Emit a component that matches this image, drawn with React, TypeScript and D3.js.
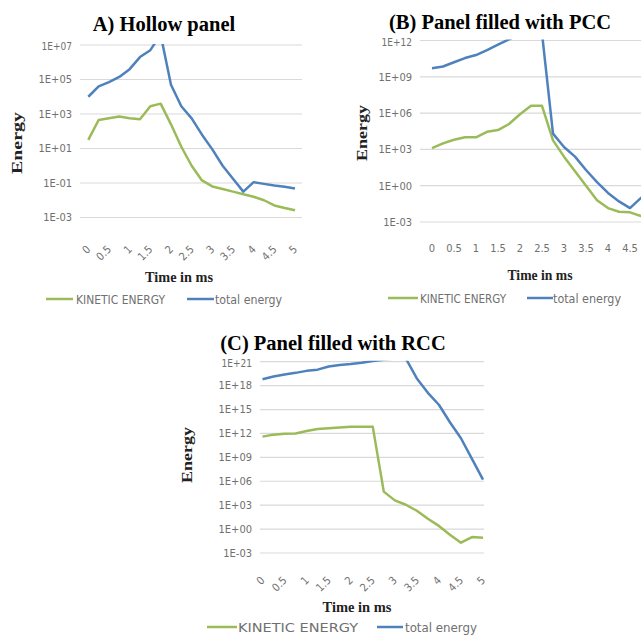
import React from "react";
import * as d3 from "d3";

// time in ms (category values)
const TIME = [0, 0.25, 0.5, 0.75, 1, 1.25, 1.5, 1.75, 2, 2.25, 2.5, 2.75, 3, 3.25, 3.5, 3.75, 4, 4.25, 4.5, 4.75, 5];
const X_TICKS = [0, 0.5, 1, 1.5, 2, 2.5, 3, 3.5, 4, 4.5, 5];
const X_TICK_LABELS = ["0", "0.5", "1", "1.5", "2", "2.5", "3", "3.5", "4", "4.5", "5"];

// energies as log10 exponents
const A_KINETIC_LOG = [1.5, 2.65, 2.75, 2.85, 2.75, 2.7, 3.45, 3.6, 2.4, 1.1, 0.0, -0.85, -1.2, -1.35, -1.5, -1.65, -1.8, -2.0, -2.3, -2.45, -2.58];
const A_TOTAL_LOG = [4.0, 4.6, 4.85, 5.15, 5.6, 6.3, 6.7, 7.6, 4.7, 3.45, 2.75, 1.8, 0.95, 0.0, -0.75, -1.5, -0.95, -1.05, -1.15, -1.22, -1.32];

const B_KINETIC_LOG = [3.1, 3.5, 3.8, 4.0, 4.0, 4.45, 4.6, 5.1, 5.9, 6.6, 6.6, 3.75, 2.4, 1.2, 0.0, -1.2, -1.85, -2.15, -2.2, -2.5, -2.7];
const B_TOTAL_LOG = [9.7, 9.85, 10.2, 10.55, 10.8, 11.2, 11.65, 12.1, 12.5, 12.8, 12.6, 4.3, 3.2, 2.4, 1.3, 0.3, -0.6, -1.3, -1.85, -1.0, -0.9];

const C_KINETIC_LOG = [11.6, 11.85, 11.95, 12.0, 12.3, 12.55, 12.65, 12.75, 12.85, 12.85, 12.85, 4.7, 3.6, 3.05, 2.3, 1.3, 0.4, -0.7, -1.7, -1.0, -1.1];
const C_TOTAL_LOG = [18.8, 19.15, 19.4, 19.6, 19.85, 20.0, 20.4, 20.6, 20.72, 20.88, 21.1, 21.25, 21.4, 21.4, 18.9, 17.1, 15.6, 13.4, 11.4, 8.8, 6.2];

const A_Y_TICKS = [1e7, 1e5, 1e3, 1e1, 1e-1, 1e-3];
const A_Y_LABELS = ["1E+07", "1E+05", "1E+03", "1E+01", "1E-01", "1E-03"];
const B_Y_TICKS = [1e12, 1e9, 1e6, 1e3, 1e0, 1e-3];
const B_Y_LABELS = ["1E+12", "1E+09", "1E+06", "1E+03", "1E+00", "1E-03"];
const C_Y_TICKS = [1e21, 1e18, 1e15, 1e12, 1e9, 1e6, 1e3, 1e0, 1e-3];
const C_Y_LABELS = ["1E+21", "1E+18", "1E+15", "1E+12", "1E+09", "1E+06", "1E+03", "1E+00", "1E-03"];

const TITLES = ["A) Hollow panel", "(B) Panel filled with PCC", "(C) Panel filled with RCC"];
const SERIES_NAMES = ["KINETIC ENERGY", "total energy"];
const X_TITLE = "Time in ms";
const Y_TITLE = "Energy";

const W = 641;
const H = 635;
const GREEN = "#9bbb59";
const BLUE = "#4f81bd";
const GRID = "#d9d9d9";
const TICK = "#707070";
const NARROW = "Liberation Sans Narrow, DejaVu Sans Condensed, Liberation Sans, sans-serif";
const SERIF = "Liberation Serif, Times New Roman, serif";

type PanelProps = {
  id: string;
  title: string;
  titleX: number;
  titleY: number;
  kinetic: number[];
  total: number[];
  yTicks: number[];
  yLabels: string[];
  plot: { left: number; right: number; top: number; bottom: number };
  xRange: [number, number];
  rotated: boolean;
  xLabelY: number;
  xTitle: { x: number; y: number; len: number };
  yTitle: { x: number; y: number; len: number };
  legend: { y: number; g1: number; g2: number; t1: number; t1len: number; b1: number; b2: number; t2: number; t2len: number; size: number };
};

function Panel(p: PanelProps) {
  const x = d3.scaleLinear().domain([0, 5]).range(p.xRange);
  const y = d3
    .scaleLog()
    .domain([p.yTicks[p.yTicks.length - 1], p.yTicks[0]])
    .range([p.plot.bottom, p.plot.top]);
  const line = d3
    .line<[number, number]>()
    .x((d) => x(d[0]))
    .y((d) => y(Math.pow(10, d[1])));
  const kin = line(TIME.map((t, i) => [t, p.kinetic[i]]));
  const tot = line(TIME.map((t, i) => [t, p.total[i]]));
  const clipId = "clip-" + p.id;
  return (
    <g>
      <defs>
        <clipPath id={clipId}>
          <rect x={p.plot.left - 5} y={p.plot.top - 1} width={p.plot.right - p.plot.left + 10} height={p.plot.bottom - p.plot.top + 6} />
        </clipPath>
      </defs>
      {p.yTicks.map((v, i) => (
        <g key={i}>
          <line x1={p.plot.left} x2={Math.min(p.plot.right, W)} y1={y(v)} y2={y(v)} stroke={GRID} strokeWidth={1.2} />
          <text x={p.plot.left - 8} y={y(v) + (i === 0 ? 1.5 : 0)} dy="0.35em" textAnchor="end" fontFamily={NARROW} fontSize={i === 0 ? 10 : 11} fill={TICK}>
            {p.yLabels[i]}
          </text>
        </g>
      ))}
      <text x={p.titleX} y={p.titleY} textAnchor="middle" fontFamily={SERIF} fontWeight="bold" fontSize={20.5} fill="#000">
        {p.title}
      </text>
      {X_TICKS.filter((t) => x(t) + 6 < W).map((t, i) =>
        p.rotated ? (
          <text key={i} transform={`translate(${x(t) + 3},${p.xLabelY}) rotate(-45)`} textAnchor="end" fontFamily={NARROW} fontSize={11} fill={TICK}>
            {X_TICK_LABELS[X_TICKS.indexOf(t)]}
          </text>
        ) : (
          <text key={i} x={x(t)} y={p.xLabelY} textAnchor="middle" fontFamily={NARROW} fontSize={11} fill={TICK}>
            {X_TICK_LABELS[X_TICKS.indexOf(t)]}
          </text>
        )
      )}
      <g clipPath={`url(#${clipId})`}>
        <path d={kin || ""} fill="none" stroke={GREEN} strokeWidth={2.5} strokeLinejoin="round" />
        <path d={tot || ""} fill="none" stroke={BLUE} strokeWidth={2.5} strokeLinejoin="round" />
      </g>
      <text x={p.xTitle.x} y={p.xTitle.y} textAnchor="middle" fontFamily={SERIF} fontWeight="bold" fontSize={15} fill="#222" textLength={p.xTitle.len} lengthAdjust="spacingAndGlyphs">
        {X_TITLE}
      </text>
      <text transform={`translate(${p.yTitle.x},${p.yTitle.y}) rotate(-90)`} textAnchor="middle" fontFamily={SERIF} fontWeight="bold" fontSize={15} fill="#222" textLength={p.yTitle.len} lengthAdjust="spacingAndGlyphs">
        {Y_TITLE}
      </text>
      <g>
        <line x1={p.legend.g1} x2={p.legend.g2} y1={p.legend.y} y2={p.legend.y} stroke={GREEN} strokeWidth={2.5} />
        <text x={p.legend.t1} y={p.legend.y} dy="0.35em" fontFamily={NARROW} fontSize={p.legend.size} fill={TICK} textLength={p.legend.t1len} lengthAdjust="spacingAndGlyphs">
          {SERIES_NAMES[0]}
        </text>
        <line x1={p.legend.b1} x2={p.legend.b2} y1={p.legend.y} y2={p.legend.y} stroke={BLUE} strokeWidth={2.5} />
        <text x={p.legend.t2} y={p.legend.y} dy="0.35em" fontFamily={NARROW} fontSize={p.legend.size} fill={TICK} textLength={p.legend.t2len} lengthAdjust="spacingAndGlyphs">
          {SERIES_NAMES[1]}
        </text>
      </g>
    </g>
  );
}

export default function App() {
  return (
    <svg width={W} height={H} style={{ position: "absolute", left: 0, top: 0, background: "#fff" }}>
      <rect x={0} y={0} width={W} height={H} fill="#fff" />
      <Panel
        id="a"
        title={TITLES[0]}
        titleX={164}
        titleY={31}
        kinetic={A_KINETIC_LOG}
        total={A_TOTAL_LOG}
        yTicks={A_Y_TICKS}
        yLabels={A_Y_LABELS}
        plot={{ left: 80, right: 302, top: 45, bottom: 217.5 }}
        xRange={[88.3, 295]}
        rotated={true}
        xLabelY={250}
        xTitle={{ x: 179, y: 282, len: 68 }}
        yTitle={{ x: 22, y: 143, len: 62 }}
        legend={{ y: 299, g1: 46, g2: 73, t1: 76, t1len: 89, b1: 187, b2: 214, t2: 215, t2len: 67, size: 13 }}
      />
      <Panel
        id="b"
        title={TITLES[1]}
        titleX={500}
        titleY={29}
        kinetic={B_KINETIC_LOG}
        total={B_TOTAL_LOG}
        yTicks={B_Y_TICKS}
        yLabels={B_Y_LABELS}
        plot={{ left: 420, right: 670, top: 40.5, bottom: 222 }}
        xRange={[432, 652]}
        rotated={false}
        xLabelY={252}
        xTitle={{ x: 540, y: 280, len: 65 }}
        yTitle={{ x: 367, y: 133, len: 56 }}
        legend={{ y: 298, g1: 388, g2: 418, t1: 420, t1len: 86, b1: 527, b2: 553, t2: 553, t2len: 68, size: 13 }}
      />
      <Panel
        id="c"
        title={TITLES[2]}
        titleX={333}
        titleY={350}
        kinetic={C_KINETIC_LOG}
        total={C_TOTAL_LOG}
        yTicks={C_Y_TICKS}
        yLabels={C_Y_LABELS}
        plot={{ left: 260, right: 484, top: 361.7, bottom: 553 }}
        xRange={[262.5, 483]}
        rotated={true}
        xLabelY={581}
        xTitle={{ x: 357, y: 612, len: 69 }}
        yTitle={{ x: 192, y: 455, len: 56 }}
        legend={{ y: 627, g1: 207, g2: 237, t1: 238, t1len: 120, b1: 377, b2: 403, t2: 405, t2len: 72, size: 13 }}
      />
    </svg>
  );
}
